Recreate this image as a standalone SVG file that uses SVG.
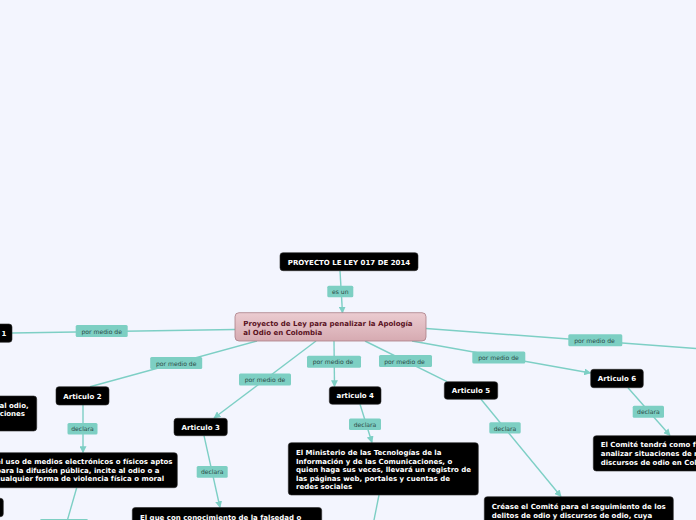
<svg xmlns="http://www.w3.org/2000/svg" width="696" height="520" viewBox="0 0 696 520">
<defs>
<linearGradient id="gMain" x1="0" y1="0" x2="0" y2="1">
<stop offset="0" stop-color="#ebccd1"/>
<stop offset="1" stop-color="#d6aab1"/>
</linearGradient>
<marker id="arr" viewBox="0 0 10 10" refX="9" refY="5" markerWidth="7" markerHeight="7" markerUnits="userSpaceOnUse" orient="auto">
<path d="M0,0 L10,5 L0,10 z" fill="#7dcfc5"/>
</marker>
</defs>
<style>
.bg{fill:#f3f5fe}
.ln{stroke:#7dcfc5;stroke-width:1.4;fill:none}
.lb rect{fill:#7dcfc3}
.lb text{font-family:"DejaVu Sans",Verdana,sans-serif;font-size:6.1px;fill:#2c4a47;text-anchor:middle}
.nd rect{fill:#000;stroke:#2a2a2a;stroke-width:0.6}
.nd text{font-family:"DejaVu Sans",Verdana,sans-serif;font-size:7px;font-weight:bold;fill:#fff}
.c{text-anchor:middle}
.e{text-anchor:end}
.mn rect{fill:url(#gMain);stroke:#a97e86;stroke-width:0.8}
.mn text{font-family:"DejaVu Sans",Verdana,sans-serif;font-size:7px;font-weight:bold;fill:#5a1222}
</style>
<rect class="bg" x="0" y="0" width="696" height="520"/>
<g id="connectors">
<line class="ln" x1="340" y1="271" x2="342.5" y2="313" marker-end="url(#arr)"/>
<line class="ln" x1="235" y1="329.5" x2="12" y2="333"/>
<line class="ln" x1="257" y1="341" x2="90" y2="386.7"/>
<line class="ln" x1="316" y1="341" x2="214" y2="418" marker-end="url(#arr)"/>
<line class="ln" x1="334" y1="341" x2="334.5" y2="386.5" marker-end="url(#arr)"/>
<line class="ln" x1="365" y1="341" x2="447" y2="381.7"/>
<line class="ln" x1="412" y1="341" x2="590.5" y2="373" marker-end="url(#arr)"/>
<line class="ln" x1="426" y1="328.5" x2="696" y2="348.5"/>
<line class="ln" x1="83" y1="405" x2="83" y2="452.5" marker-end="url(#arr)"/>
<line class="ln" x1="204" y1="435.7" x2="220" y2="507.5" marker-end="url(#arr)"/>
<line class="ln" x1="360" y1="404.3" x2="372" y2="442.5" marker-end="url(#arr)"/>
<line class="ln" x1="481" y1="399.3" x2="561" y2="496.5" marker-end="url(#arr)"/>
<line class="ln" x1="628" y1="387.7" x2="670" y2="435.5" marker-end="url(#arr)"/>
<line class="ln" x1="76.7" y1="487.7" x2="66" y2="525"/>
<line class="ln" x1="379" y1="495" x2="373" y2="525"/>
<g class="lb"><rect x="327.3" y="285.7" width="26" height="11.6" rx="1.5"/><text x="340.3" y="294">es un</text></g>
<g class="lb"><rect x="75.7" y="325" width="52" height="12" rx="1.5"/><text x="101.7" y="333.5">por medio de</text></g>
<g class="lb"><rect x="150.2" y="357" width="52" height="12" rx="1.5"/><text x="176.2" y="365.5">por medio de</text></g>
<g class="lb"><rect x="239" y="373.5" width="52" height="12" rx="1.5"/><text x="265" y="382">por medio de</text></g>
<g class="lb"><rect x="307" y="355.7" width="54" height="12" rx="1.5"/><text x="333" y="364.2">por medio de</text></g>
<g class="lb"><rect x="379" y="355" width="53" height="12" rx="1.5"/><text x="404.5" y="363.5">por medio de</text></g>
<g class="lb"><rect x="472.3" y="351.5" width="53" height="12" rx="1.5"/><text x="498.5" y="360">por medio de</text></g>
<g class="lb"><rect x="568.3" y="334.3" width="54" height="12" rx="1.5"/><text x="594.5" y="342.8">por medio de</text></g>
<g class="lb"><rect x="67.5" y="423" width="30" height="11.5" rx="1.5"/><text x="82.5" y="431.3">declara</text></g>
<g class="lb"><rect x="196.7" y="466" width="31" height="11.7" rx="1.5"/><text x="212.2" y="474.4">declara</text></g>
<g class="lb"><rect x="349" y="418.5" width="32" height="11.5" rx="1.5"/><text x="365" y="426.8">declara</text></g>
<g class="lb"><rect x="489.3" y="422.3" width="31.4" height="11.3" rx="1.5"/><text x="505" y="430.5">declara</text></g>
<g class="lb"><rect x="632.7" y="405.7" width="31.3" height="12" rx="1.5"/><text x="648.4" y="414.2">declara</text></g>
<g class="lb"><rect x="40" y="519" width="48" height="12" rx="1.5"/></g>
</g>
<g id="n-title" class="nd"><rect x="280" y="252.7" width="138" height="18" rx="3"/><text class="c" x="349" y="264.6">PROYECTO LE LEY 017 DE 2014</text></g>
<g id="n-main" class="mn"><rect x="235" y="312.7" width="191" height="28.3" rx="4"/><text x="243.3" y="326">Proyecto de Ley para penalizar la Apología</text><text x="243.3" y="335">al Odio en Colombia</text></g>
<g id="n-1" class="nd"><rect x="-6" y="324" width="18" height="18.3" rx="3"/><text x="1.5" y="336">1</text></g>
<g id="n-left" class="nd"><rect x="-10" y="396" width="46.7" height="35" rx="3"/><text class="e" x="28.7" y="407.8">al odio,</text><text class="e" x="25" y="416.4">ciones</text></g>
<g id="n-art2" class="nd"><rect x="56" y="386.7" width="53" height="18.3" rx="3"/><text class="c" x="82.5" y="398.8">Articulo 2</text></g>
<g id="n-art2d" class="nd"><rect x="-10" y="452.7" width="187.3" height="35" rx="3"/><text x="-4" y="464.3">el uso de medios electrónicos o físicos aptos</text><text x="-4" y="472.8">para la difusión pública, incite al odio o a</text><text x="-4" y="481.3">cualquier forma de violencia física o moral</text></g>
<g id="n-leftbottom" class="nd"><rect x="-10" y="498.3" width="13.3" height="18.4" rx="3"/></g>
<g id="n-art3" class="nd"><rect x="174" y="418.3" width="53.3" height="17.4" rx="3"/><text class="c" x="200.7" y="430">Articulo 3</text></g>
<g id="n-art3d" class="nd"><rect x="132.3" y="507.5" width="189.4" height="30" rx="3"/><text x="140" y="520">El que con conocimiento de la falsedad o</text></g>
<g id="n-art4" class="nd"><rect x="329.3" y="386.7" width="51.7" height="17.6" rx="3"/><text class="c" x="355.2" y="398.2">articulo 4</text></g>
<g id="n-art4d" class="nd"><rect x="288.3" y="442.7" width="190" height="52.3" rx="3"/><text x="296" y="455">El Ministerio de las Tecnologías de la</text><text x="296" y="463.6">Información y de las Comunicaciones, o</text><text x="296" y="472.2">quien haga sus veces, llevará un registro de</text><text x="296" y="480.8">las páginas web, portales y cuentas de</text><text x="296" y="489.4">redes sociales</text></g>
<g id="n-art5" class="nd"><rect x="444.3" y="381.7" width="53.4" height="17.6" rx="3"/><text class="c" x="471" y="393.2">Articulo 5</text></g>
<g id="n-art5d" class="nd"><rect x="484.3" y="496.7" width="189" height="40" rx="3"/><text x="491.7" y="509">Créase el Comité para el seguimiento de los</text><text x="491.7" y="517.6">delitos de odio y discursos de odio, cuya</text></g>
<g id="n-art6" class="nd"><rect x="590.7" y="369.3" width="52.6" height="18.4" rx="3"/><text class="c" x="617" y="381.2">Articulo 6</text></g>
<g id="n-art6d" class="nd"><rect x="593.3" y="435.7" width="120" height="35.3" rx="3"/><text x="600.7" y="447.4">El Comité tendrá como función</text><text x="600.7" y="456">analizar situaciones de riesgo</text><text x="600.7" y="464.6">discursos de odio en Colombia</text></g>
</svg>
